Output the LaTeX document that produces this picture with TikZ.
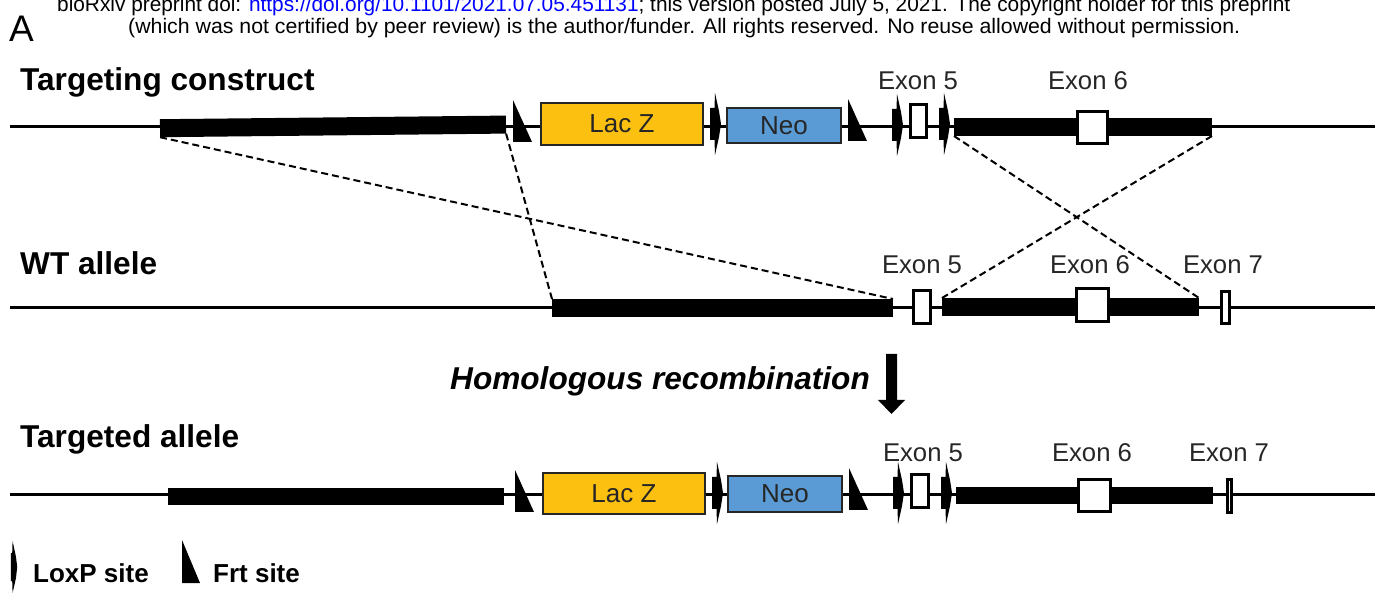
\documentclass[tikz,border=0pt]{standalone}
\usepackage{fontspec}
\setmainfont{Liberation Sans}
\usepackage{graphicx}
\definecolor{lacz}{RGB}{252,192,16}
\definecolor{neo}{RGB}{91,155,213}
\definecolor{txtgray}{RGB}{38,38,38}
\definecolor{link}{RGB}{0,0,255}

\tikzset{
  dna/.style={line width=3pt, black},
  bar/.style={fill=black, draw=none, inner sep=0pt, outer sep=0pt},
  exon/.style={draw=black, fill=white, line width=3pt, inner sep=0pt, outer sep=0pt},
  cassette/.style={draw=txtgray, line width=1.7pt, inner sep=0pt, outer sep=0pt,
    text=txtgray, font=\fontsize{26}{30}\selectfont},
  homology/.style={line width=2pt, dash pattern=on 7pt off 4pt},
  rowlabel/.style={font=\fontsize{31.6}{36}\selectfont\bfseries, anchor=base west, inner sep=0pt},
  exonlabel/.style={font=\fontsize{25.7}{30}\selectfont, text=txtgray, anchor=base, inner sep=0pt},
  keylabel/.style={font=\fontsize{26}{30}\selectfont\bfseries, anchor=base west, inner sep=0pt},
  pics/loxp/.style={code={
    \fill[black] (-5,-16) -- (-0.5,-16) -- (0,-31) -- (4,-13) -- (6,0) -- (4,13)
      -- (0,31) -- (-0.5,16) -- (-5,16) -- cycle;}},
  pics/frt/.style={code={
    \fill[black] (0,-42) -- (19,0) -- (0,0) -- cycle;}},
}

\begin{document}
\begin{tikzpicture}[x=1pt, y=-1pt]
\useasboundingbox (0,0) rectangle (1385,593);

% preprint banner
\node[anchor=base west, inner sep=0pt] (hdr1) at (57,12)
  {\resizebox{1233pt}{\height}{\fontsize{21}{23}\selectfont bioRxiv preprint doi: \textcolor{link}{https://doi.org/10.1101/2021.07.05.451131}; this version posted July 5, 2021. The copyright holder for this preprint}};
\node[anchor=base west, inner sep=0pt] (hdr2) at (128,34)
  {\resizebox{1112pt}{\height}{\fontsize{21}{23}\selectfont (which was not certified by peer review) is the author/funder. All rights reserved. No reuse allowed without permission.}};
\node[anchor=base west, inner sep=0pt, font=\fontsize{37}{40}\selectfont] (panel) at (9,41.7) {A};

% ---------------- targeting construct ----------------
\node[rowlabel] (lab1) at (20,91) {Targeting construct};
\draw[dna] (10,127) -- (1375,127);
\node[bar, minimum width=346pt, minimum height=18pt, rotate=0.6] (tA) at (333,126.4) {};
\node[bar, minimum width=258pt, minimum height=18pt] (tB) at (1083,127) {};
\pic at (513,142) {frt};
\node[cassette, fill=lacz, minimum width=162pt, minimum height=42pt] (tlac) at (622,123.7) {Lac Z};
\pic at (715,124) {loxp};
\node[cassette, fill=neo, minimum width=114pt, minimum height=35pt] (tneo) at (784,125.5) {Neo};
\pic at (848,141) {frt};
\pic at (897,125) {loxp};
\node[exon, minimum width=16pt, minimum height=33pt] (tE5) at (918.5,121) {};
\pic at (944,124) {loxp};
\node[exon, minimum width=30pt, minimum height=32pt] (tE6) at (1092.5,127.5) {};
\node[exonlabel] (tE5l) at (918,89.5) {Exon 5};
\node[exonlabel] (tE6l) at (1088,89.5) {Exon 6};

% ---------------- wild-type allele ----------------
\node[rowlabel] (lab2) at (20,275) {WT allele};
\draw[dna] (10,308) -- (1375,308);
\node[bar, minimum width=341pt, minimum height=18pt] (wA) at (722.5,308) {};
\node[bar, minimum width=257pt, minimum height=18pt] (wB) at (1070.5,307) {};
\node[exon, minimum width=17pt, minimum height=33pt] (wE5) at (922,307) {};
\node[exon, minimum width=32pt, minimum height=33pt] (wE6) at (1092.5,305) {};
\node[exon, minimum width=8pt, minimum height=32pt] (wE7) at (1225.5,307.5) {};
\node[exonlabel] (wE5l) at (922,274) {Exon 5};
\node[exonlabel] (wE6l) at (1090,274) {Exon 6};
\node[exonlabel] (wE7l) at (1223,274) {Exon 7};

% homology arms
\draw[homology] (tA.south west) -- (wA.north east);
\draw[homology] (tA.south east) -- (wA.north west);
\draw[homology] (tB.south west) -- (wB.north east);
\draw[homology] (tB.south east) -- (wB.north west);

% recombination step
\node[anchor=base east, inner sep=0pt, font=\fontsize{31.6}{36}\selectfont\bfseries\itshape] (hr) at (870,390) {Homologous recombination};
\fill[black] (886,354) -- (897,354) -- (897,400) -- (905,400) -- (891.5,414)
  -- (878,400) -- (886,400) -- cycle;

% ---------------- targeted allele ----------------
\node[rowlabel] (lab3) at (20,448) {Targeted allele};
\draw[dna] (10,495) -- (1375,495);
\node[bar, minimum width=336pt, minimum height=17pt] (gA) at (336,496.5) {};
\node[bar, minimum width=257pt, minimum height=17pt] (gB) at (1084.5,495.5) {};
\pic at (515,512) {frt};
\node[cassette, fill=lacz, minimum width=162pt, minimum height=41pt] (glac) at (624,493.5) {Lac Z};
\pic at (717,493) {loxp};
\node[cassette, fill=neo, minimum width=114pt, minimum height=36pt] (gneo) at (785,494) {Neo};
\pic at (849,510) {frt};
\pic at (898,493) {loxp};
\node[exon, minimum width=17pt, minimum height=33pt] (gE5) at (920,491) {};
\pic at (946,493) {loxp};
\node[exon, minimum width=32pt, minimum height=32pt] (gE6) at (1094.5,495.5) {};
\node[exon, minimum width=4pt, minimum height=33pt] (gE7) at (1229.5,496) {};
\node[exonlabel] (gE5l) at (923,462) {Exon 5};
\node[exonlabel] (gE6l) at (1092,462) {Exon 6};
\node[exonlabel] (gE7l) at (1229,462) {Exon 7};

% ---------------- key ----------------
\fill[black] (10.8,553) -- (12.2,553) -- (12.6,541) -- (16,557) -- (17.2,567)
  -- (16,578) -- (12.6,593) -- (12.2,581) -- (10.8,581) -- cycle;
\node[keylabel] (kl) at (33,582) {LoxP site};
\fill[black] (182,540) -- (200,583) -- (182,583) -- cycle;
\node[keylabel] (kf) at (213,582) {Frt site};
\end{tikzpicture}
\end{document}
